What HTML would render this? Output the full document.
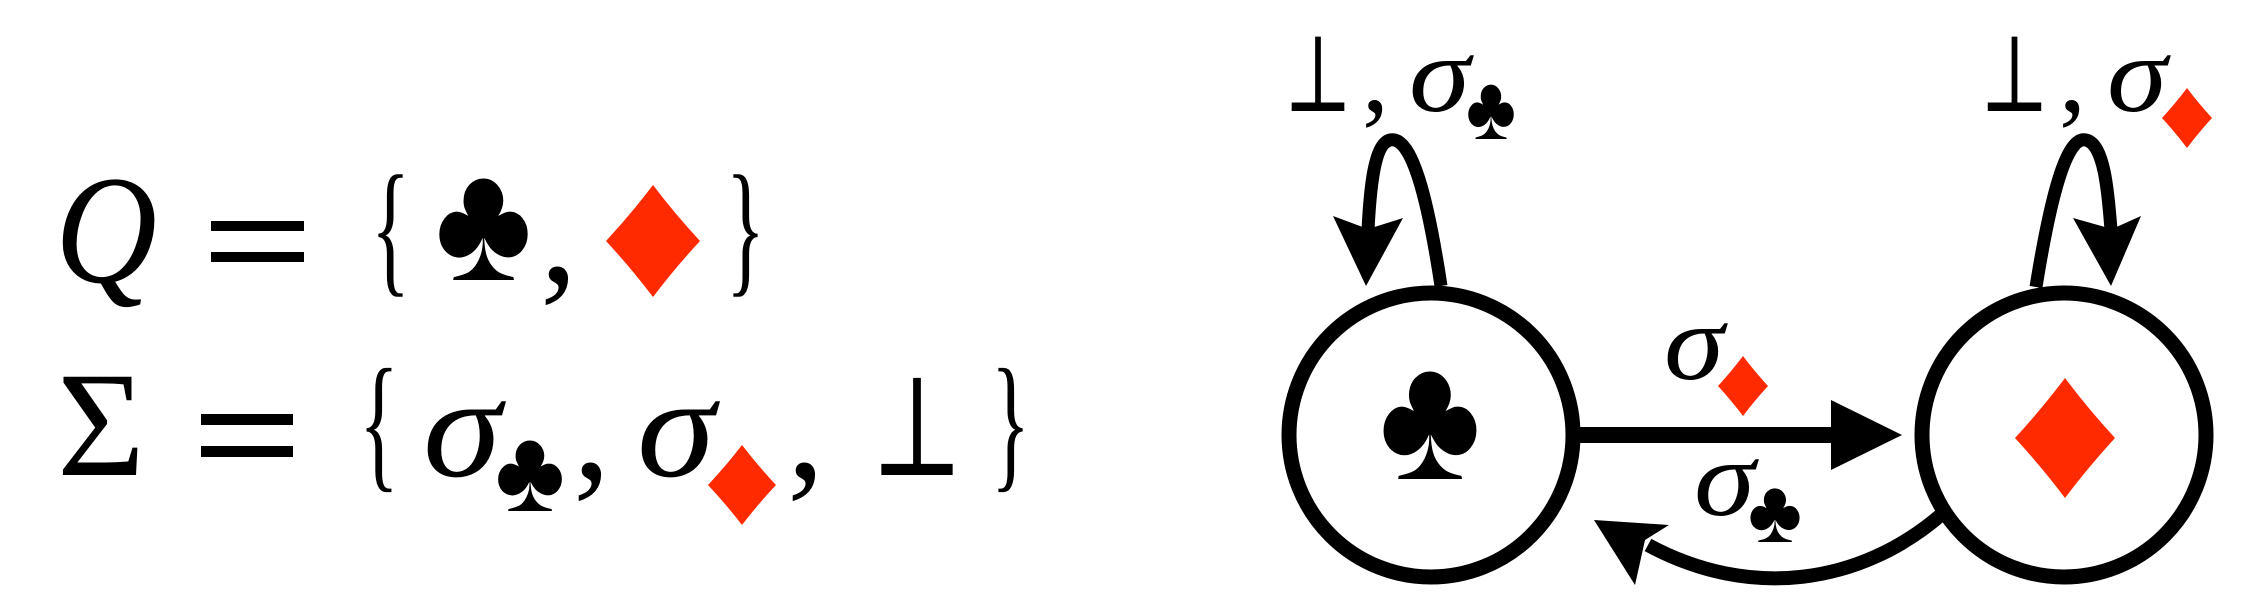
<!DOCTYPE html>
<html><head><meta charset="utf-8"><style>
html,body{margin:0;padding:0;background:#fff;}
svg{display:block;font-family:"Liberation Serif","DejaVu Serif",serif;}
</style></head><body>
<svg width="2268" height="606" viewBox="0 0 2268 606">
<defs>
<path id="dia" d="M0,-1 Q0.45,-0.5 1,0 Q0.45,0.5 0,1 Q-0.45,0.5 -1,0 Q-0.45,-0.5 0,-1Z" fill="#ff2a00"/>
</defs>
<g>
<text x="55" y="282" font-size="155" font-style="italic" textLength="102" lengthAdjust="spacingAndGlyphs">Q</text>
<rect x="211" y="221" width="93" height="10" fill="#000"/>
<rect x="211" y="252" width="93" height="10" fill="#000"/>
<text x="371" y="277" font-size="148" textLength="39" lengthAdjust="spacingAndGlyphs">{</text>
<text x="435" y="280" font-size="170" textLength="97" lengthAdjust="spacingAndGlyphs">♣</text>
<text x="540" y="282" font-size="150">,</text>
<use href="#dia" transform="translate(653,241) scale(47,56)"/>
<text x="726" y="277" font-size="148" textLength="39" lengthAdjust="spacingAndGlyphs">}</text>
</g>
<g>
<text x="57" y="475" font-size="150" textLength="88" lengthAdjust="spacingAndGlyphs">Σ</text>
<rect x="201" y="414" width="92" height="11" fill="#000"/>
<rect x="201" y="446" width="92" height="11" fill="#000"/>
<text x="359" y="472" font-size="150" textLength="40" lengthAdjust="spacingAndGlyphs">{</text>
<text x="423" y="476" font-size="145" font-style="italic" textLength="78" lengthAdjust="spacingAndGlyphs">σ</text>
<text x="495" y="511" font-size="118" textLength="70" lengthAdjust="spacingAndGlyphs">♣</text>
<text x="573" y="478" font-size="150">,</text>
<text x="637" y="476" font-size="145" font-style="italic" textLength="78" lengthAdjust="spacingAndGlyphs">σ</text>
<use href="#dia" transform="translate(742,485) scale(34,40)"/>
<text x="787" y="478" font-size="150">,</text>
<text x="871" y="475" font-size="141" textLength="92" lengthAdjust="spacingAndGlyphs">⊥</text>
<text x="991" y="472" font-size="150" textLength="39" lengthAdjust="spacingAndGlyphs">}</text>
</g>
<g fill="none" stroke="#000">
<circle cx="1431" cy="435" r="142" stroke-width="15" fill="#fff"/>
<circle cx="2064" cy="435" r="142" stroke-width="15" fill="#fff"/>
<line x1="1580" y1="435" x2="1835" y2="435" stroke-width="16"/>
<path d="M1441,286 C1428,200 1412,135 1390,140 C1374,144 1370,190 1368,230" stroke-width="13"/>
<path d="M2036,287 C2050,200 2066,135 2086,140 C2104,144 2108,190 2111,230" stroke-width="13"/>
<path d="M1942,514 C1860,585 1750,600 1648,545" stroke-width="14"/>
</g>
<path d="M1831,400 L1902,435 L1831,470Z" fill="#000"/>
<path d="M1333,216 L1366,286 L1403,218 L1368,229Z" fill="#000"/>
<path d="M2073,218 L2111,286 L2141,216 L2112,229Z" fill="#000"/>
<path d="M1594,520 L1669,525 L1645,540 L1635,585Z" fill="#000"/>
<text x="1379" y="479" font-size="180" textLength="102" lengthAdjust="spacingAndGlyphs">♣</text>
<use href="#dia" transform="translate(2065,438) scale(50,60)"/>
<text x="1284" y="111" font-size="108" textLength="68" lengthAdjust="spacingAndGlyphs">⊥</text>
<text x="1362" y="111" font-size="108">,</text>
<text x="1409" y="111" font-size="108" font-style="italic" textLength="61" lengthAdjust="spacingAndGlyphs">σ</text>
<text x="1466" y="139" font-size="91" textLength="50" lengthAdjust="spacingAndGlyphs">♣</text>
<text x="1980" y="111" font-size="108" textLength="69" lengthAdjust="spacingAndGlyphs">⊥</text>
<text x="2059" y="111" font-size="108">,</text>
<text x="2107" y="111" font-size="108" font-style="italic" textLength="60" lengthAdjust="spacingAndGlyphs">σ</text>
<use href="#dia" transform="translate(2187,118) scale(25,30)"/>
<text x="1664" y="379" font-size="108" font-style="italic" textLength="60" lengthAdjust="spacingAndGlyphs">σ</text>
<use href="#dia" transform="translate(1743,386) scale(25,30)"/>
<text x="1694" y="515" font-size="108" font-style="italic" textLength="61" lengthAdjust="spacingAndGlyphs">σ</text>
<text x="1748" y="542" font-size="90" textLength="54" lengthAdjust="spacingAndGlyphs">♣</text>
</svg>
</body></html>
